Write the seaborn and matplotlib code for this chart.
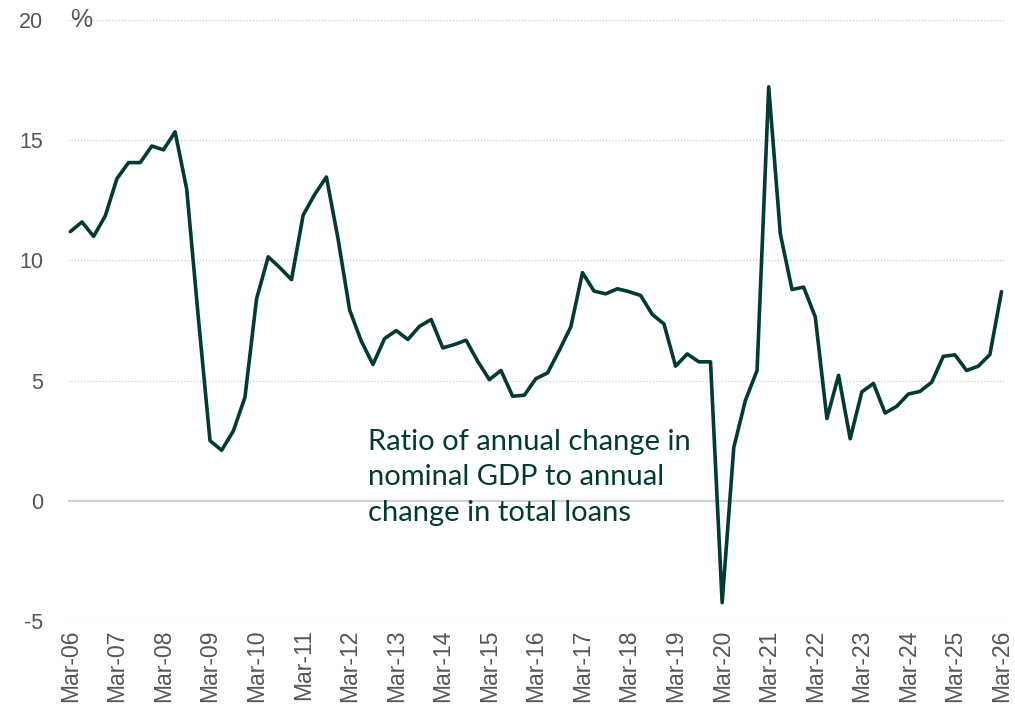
import numpy as np
import pandas as pd
import matplotlib
matplotlib.use("Agg")
import matplotlib.pyplot as plt
import seaborn as sns

# quarterly, Mar-06 .. Mar-26
quarters = pd.period_range("2006Q1", "2026Q1", freq="Q")
ratio = [11.2, 11.6, 11.0, 11.85, 13.4, 14.07, 14.07, 14.76, 14.6, 15.35,
         12.96, 7.6, 2.5, 2.1, 2.9, 4.3, 8.4, 10.15, 9.7, 9.2,
         11.88, 12.75, 13.47, 10.9, 7.93, 6.64, 5.67, 6.75, 7.08, 6.71,
         7.26, 7.54, 6.36, 6.5, 6.68, 5.8, 5.04, 5.42, 4.35, 4.39,
         5.08, 5.32, 6.25, 7.24, 9.49, 8.72, 8.61, 8.82, 8.7, 8.54,
         7.75, 7.36, 5.6, 6.11, 5.78, 5.78, -4.24, 2.22, 4.18, 5.42,
         17.22, 11.1, 8.79, 8.89, 7.65, 3.42, 5.22, 2.58, 4.53, 4.88,
         3.65, 3.93, 4.44, 4.55, 4.93, 6.01, 6.07, 5.42, 5.6, 6.08,
         8.7]
yticks = [-5, 0, 5, 10, 15, 20]
note = "Ratio of annual change in\nnominal GDP to annual\nchange in total loans"

df = pd.DataFrame({"idx": np.arange(len(ratio)), "ratio": ratio})
xlabels = ["Mar-" + str(q.year)[2:] for q in quarters if q.quarter == 1]
xticks = [i for i, q in enumerate(quarters) if q.quarter == 1]

sns.set_style("white")
plt.rcParams["font.family"] = ["Liberation Sans", "DejaVu Sans"]

fig = plt.figure(figsize=(10.15, 7.17), dpi=100)
ax = fig.add_axes([0.067, 0.134, 0.922, 0.838])

for v in yticks:
    if v == 0:
        ax.axhline(0, color="#d0d0d0", lw=1.6, zorder=1)
    else:
        ax.axhline(v, color="#cccccc", lw=0.9, ls=(0, (1, 1.5)), zorder=1)

sns.lineplot(data=df, x="idx", y="ratio", ax=ax, color="#033a33", lw=2.6, zorder=3)

ax.set_xlim(-0.2, 80.2)
ax.set_ylim(-5, 20)
ax.set_yticks(yticks)
ax.set_yticklabels([str(v) for v in yticks])
ax.set_xticks(xticks)
ax.set_xticklabels(xlabels, rotation=90)
ax.tick_params(axis="both", length=0, labelcolor="#555555")
ax.tick_params(axis="y", pad=18, labelsize=15.5)
ax.tick_params(axis="x", pad=6, labelsize=16.5)
for s in ax.spines.values():
    s.set_visible(False)
ax.set_xlabel("")
ax.set_ylabel("")

ax.text(0.0, 20, "%", fontsize=18, color="#555555", va="center", ha="left")
ax.text(25.6, 3.0, note, fontsize=21, color="#033a33", va="top", ha="left",
        linespacing=1.45, family=["Lato", "DejaVu Sans"])

fig.savefig("out.png", dpi=100)
